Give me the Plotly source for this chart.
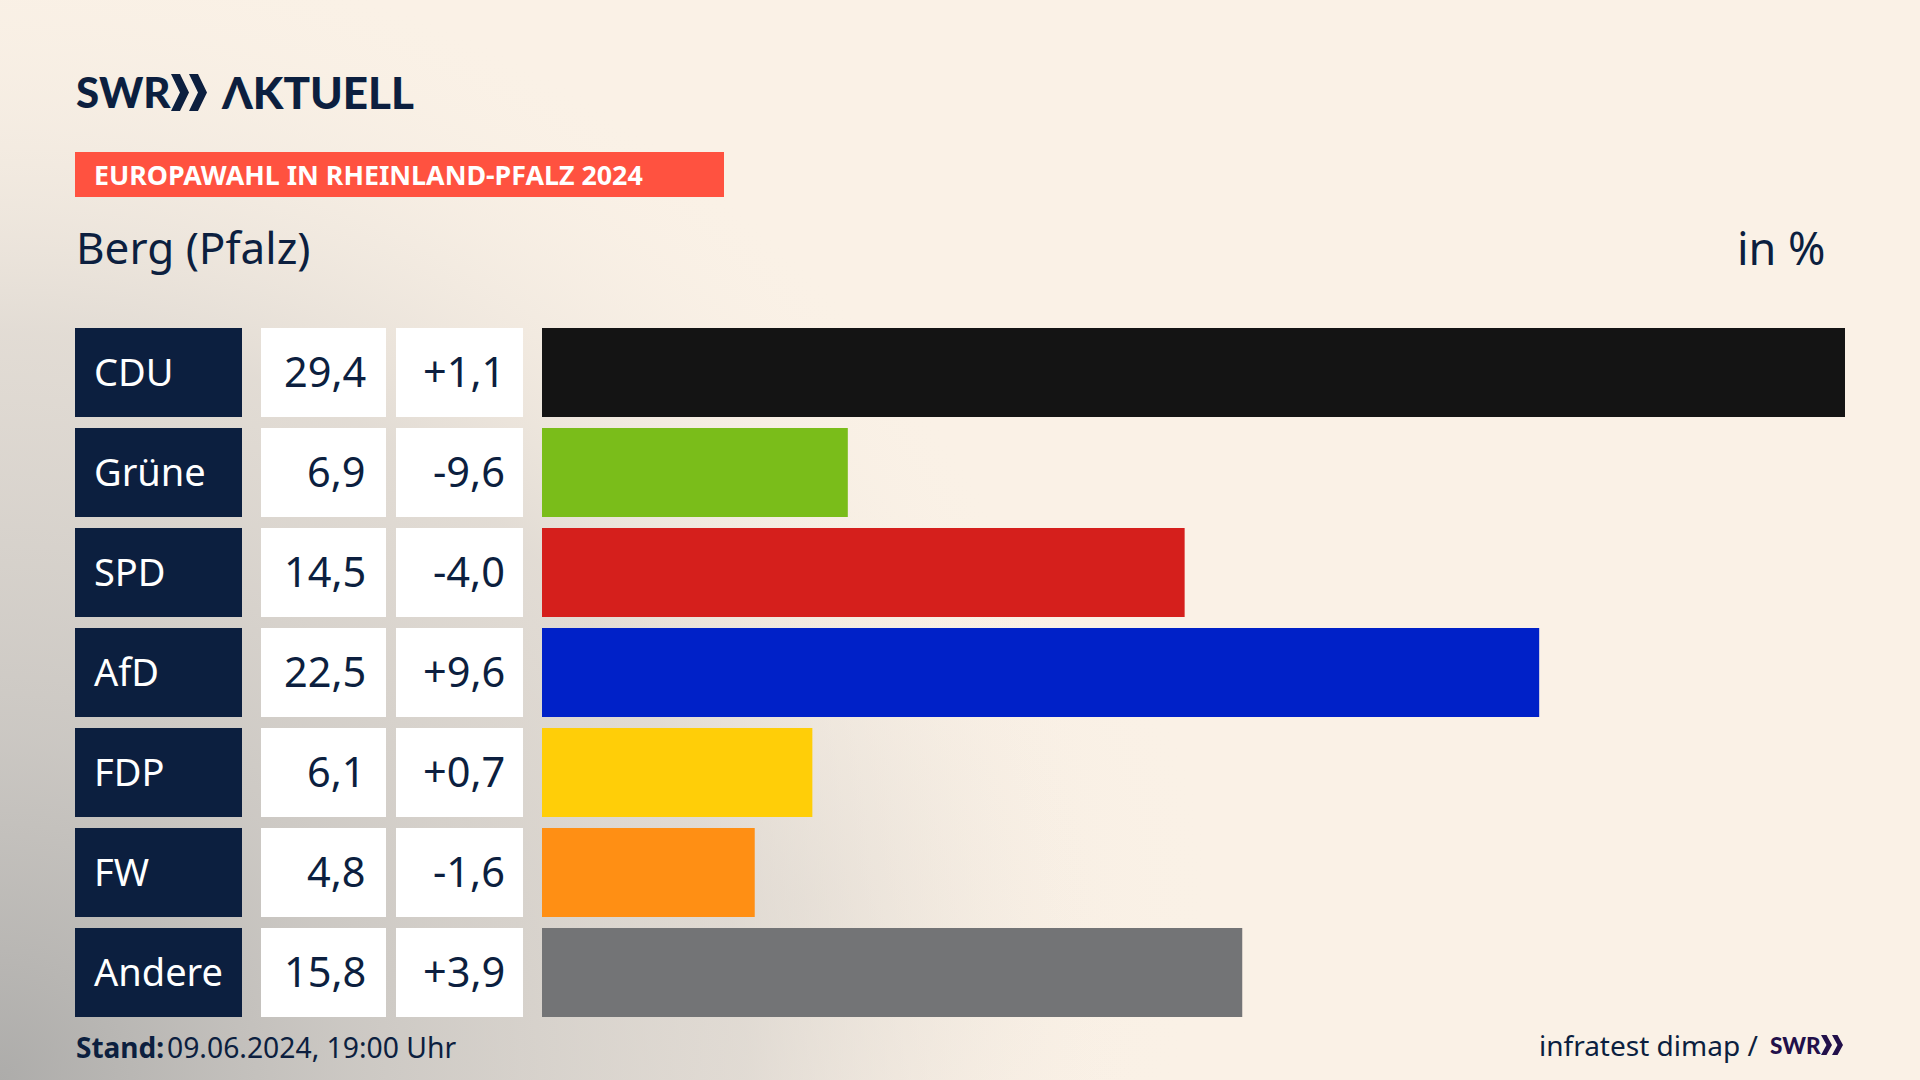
#Import Required Libraries
import base64
import plotly.graph_objects as go

#Data
parties = ['CDU', 'Grüne', 'SPD', 'AfD', 'FDP', 'FW', 'Andere']
shares = [29.4, 6.9, 14.5, 22.5, 6.1, 4.8, 15.8]
changes = [1.1, -9.6, -4.0, 9.6, 0.7, -1.6, 3.9]
bar_colors = ['#141414', '#7ABD1A', '#D51F1C', '#0021C8', '#FFCE08', '#FF8F14', '#737476']

W, H = 1920, 1080
NAVY = '#0C1F3F'
FONT = 'Noto Sans'
LOGO_FONT = 'Lato'


def px(x):
    return x / W


def py(y):
    return 1 - y / H


def de(value, sign=False):
    text = f'{value:+.1f}' if sign else f'{value:.1f}'
    return text.replace('.', ',')


def label(text, x, y, size, color=NAVY, anchor='left', family=FONT, yref='paper', weight=400):
    fig.add_annotation(text=text, x=px(x), y=y, xref='paper', yref=yref, xanchor=anchor, yanchor='middle',
                       showarrow=False, align=anchor, borderpad=0,
                       font=dict(family=family, size=size, color=color, weight=weight))


def chevrons(x, top, w, h, color):
    # the two arrows of the SWR logo
    for i in range(2):
        x0 = x + i * w * 0.5
        a = w * 0.25
        b = w * 0.5
        pts = [(x0, top), (x0 + a, top), (x0 + b, top + h / 2), (x0 + a, top + h), (x0, top + h), (x0 + a, top + h / 2)]
        path = 'M ' + ' L '.join(f'{px(p[0]):.5f},{py(p[1]):.5f}' for p in pts) + ' Z'
        fig.add_shape(type='path', path=path, xref='paper', yref='paper', fillcolor=color, line_width=0)


#Background
svg = f'''<svg xmlns="http://www.w3.org/2000/svg" width="{W}" height="{H}">
<defs>
<radialGradient id="a" gradientUnits="userSpaceOnUse" cx="0" cy="1080" r="1150">
<stop offset="0" stop-color="#ADACAA" stop-opacity="1"/>
<stop offset="0.3" stop-color="#C6C3BF" stop-opacity="0.9"/>
<stop offset="0.65" stop-color="#D8D3CD" stop-opacity="0.7"/>
<stop offset="1" stop-color="#FAF1E6" stop-opacity="0"/>
</radialGradient>
<radialGradient id="b" gradientUnits="userSpaceOnUse" cx="800" cy="900" r="420">
<stop offset="0" stop-color="#DAD3CB" stop-opacity="0.35"/>
<stop offset="1" stop-color="#FAF1E6" stop-opacity="0"/>
</radialGradient>
</defs>
<rect width="{W}" height="{H}" fill="#FAF1E6"/>
<rect width="{W}" height="{H}" fill="url(#b)"/>
<rect width="{W}" height="{H}" fill="url(#a)"/>
</svg>'''
background = 'data:image/svg+xml;base64,' + base64.b64encode(svg.encode()).decode()

#Bars
fig = go.Figure()
fig.add_trace(go.Bar(x=shares, y=parties, orientation='h', width=0.89,
                     marker=dict(color=bar_colors, line_width=0), hoverinfo='skip'))

fig.update_layout(
    width=W, height=H,
    margin=dict(l=0, r=0, t=0, b=0),
    paper_bgcolor='#FAF1E6',
    plot_bgcolor='rgba(0,0,0,0)',
    showlegend=False,
    xaxis=dict(domain=[px(542), px(1845)], range=[0, 29.4], visible=False),
    yaxis=dict(domain=[py(1022.5), py(322.5)], range=[6.5, -0.5], type='category', visible=False,
               categoryorder='array', categoryarray=parties),
    images=[dict(source=background, xref='paper', yref='paper', x=0, y=1, sizex=1, sizey=1,
                 xanchor='left', yanchor='top', sizing='stretch', layer='below')],
)

#Table cells next to the bars
for i, party in enumerate(parties):
    for x0, x1, color in [(75, 242, NAVY), (261, 386, 'white'), (396, 523, 'white')]:
        fig.add_shape(type='rect', xref='paper', yref='y', x0=px(x0), x1=px(x1), y0=i - 0.445, y1=i + 0.445,
                      fillcolor=color, line_width=0)
    label(party, 93, i - 0.015, 38, color='white', yref='y')
    label(de(shares[i]), 367, i - 0.015, 41.5, anchor='right', yref='y')
    label(de(changes[i], sign=True), 505.5, i - 0.015, 41.5, anchor='right', yref='y')

#Header
label('SWR', 75, py(92), 42, family=LOGO_FONT, weight=900)
chevrons(171, 74, 36, 37, NAVY)
label('ΛKTUELL', 220, py(92), 44, family=LOGO_FONT, weight=900)
fig.add_shape(type='rect', xref='paper', yref='paper', x0=px(75), x1=px(724), y0=py(197), y1=py(152),
              fillcolor='#FF5240', line_width=0)
label('EUROPAWAHL IN RHEINLAND-PFALZ 2024', 93, py(175), 26.8, color='white', weight=700)
label('Berg (Pfalz)', 75, py(247), 44)
label('in %', 1827, py(247), 45, anchor='right')

#Footer
label('Stand:', 75, py(1047), 28, weight=700)
label('09.06.2024, 19:00 Uhr', 166, py(1047), 28.3)
label('infratest dimap /', 1759, py(1045), 28, anchor='right')
label('SWR', 1769, py(1045), 22.5, color='#22104A', family=LOGO_FONT, weight=900)
chevrons(1821, 1035, 22, 20, '#22104A')

fig.write_html('out.html', config=dict(displayModeBar=False),
               post_script="document.body.style.margin='0';")
